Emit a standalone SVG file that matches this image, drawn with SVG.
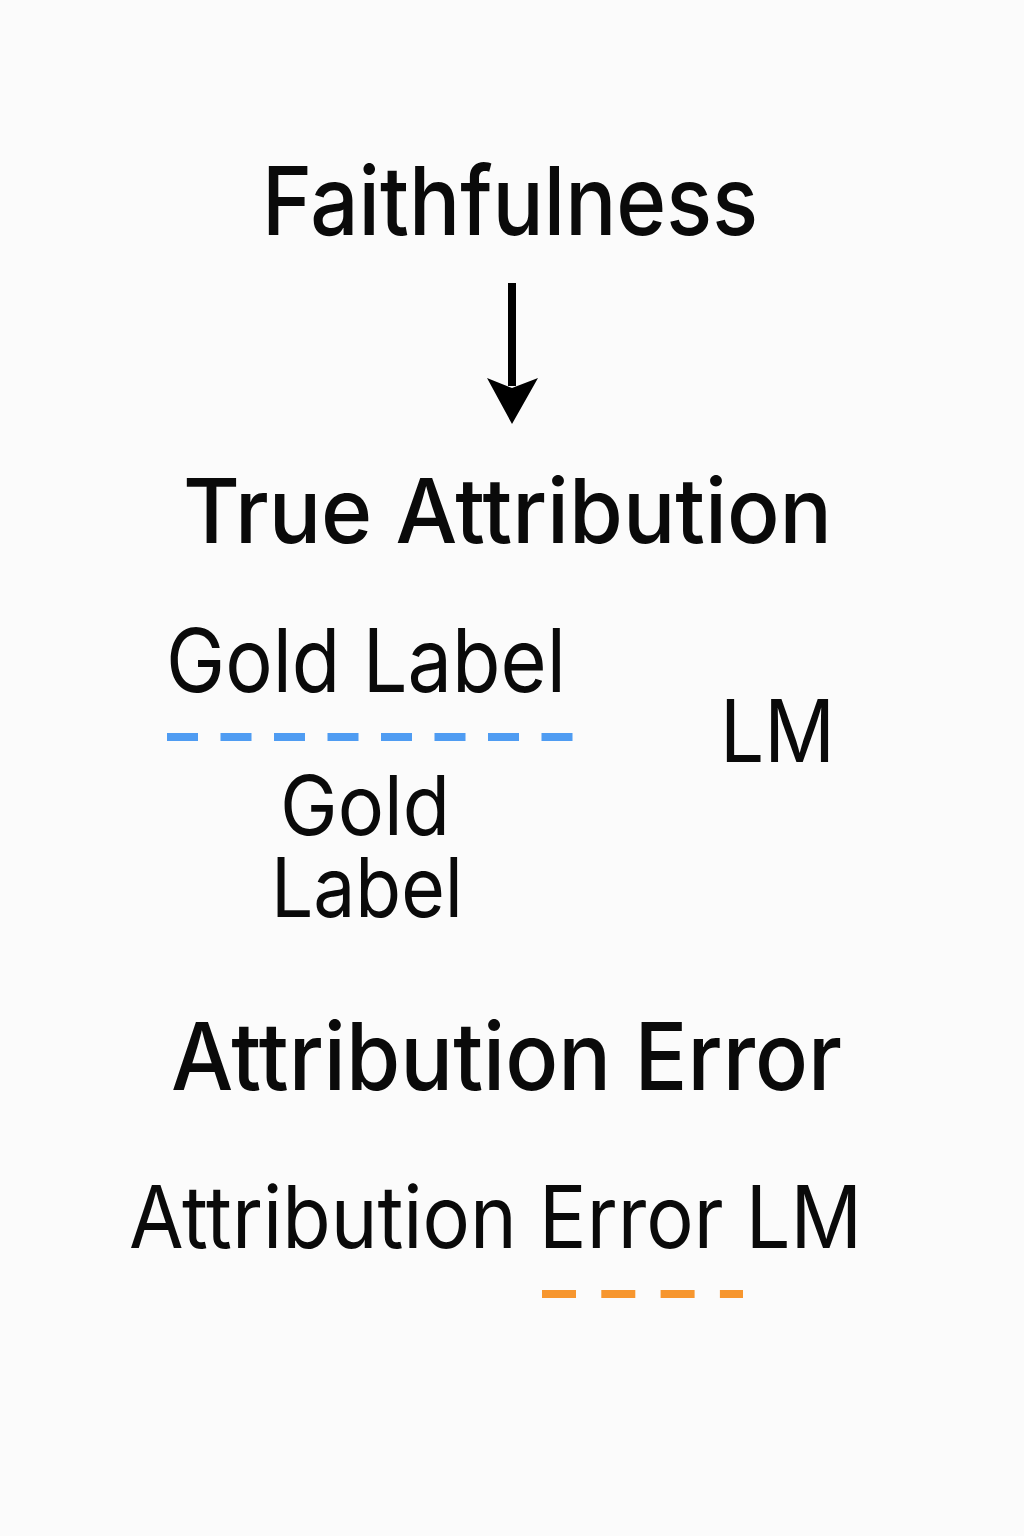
<svg xmlns="http://www.w3.org/2000/svg" width="1024" height="1536" viewBox="0 0 1024 1536">
<style>
.t{font-family:Inter,"Liberation Sans",Arial,sans-serif;fill:#0a0a0a}
.m{font-weight:550}
.r{font-weight:420}
</style>
<rect width="1024" height="1536" fill="#fbfbfb"/>
<g id="node-faithfulness"><text class="t m" x="262" y="235" font-size="95" textLength="496" lengthAdjust="spacingAndGlyphs">Faithfulness</text></g>
<g id="node-true-attribution"><text class="t m" x="183" y="543" font-size="90" textLength="649" lengthAdjust="spacingAndGlyphs">True Attribution</text></g>
<g id="node-gold-label-top"><text class="t r" x="166" y="692" font-size="88" textLength="400" lengthAdjust="spacingAndGlyphs">Gold Label</text></g>
<g id="node-lm"><text class="t r" x="720" y="762" font-size="86" textLength="115" lengthAdjust="spacingAndGlyphs">LM</text></g>
<g id="node-gold-label-stack"><text class="t r" x="280" y="835" font-size="83" textLength="170" lengthAdjust="spacingAndGlyphs">Gold</text><text class="t r" x="271" y="917" font-size="83" textLength="192" lengthAdjust="spacingAndGlyphs">Label</text></g>
<g id="node-attribution-error"><text class="t m" x="171" y="1090" font-size="94" textLength="671" lengthAdjust="spacingAndGlyphs">Attribution Error</text></g>
<g id="node-attribution-error-lm"><text class="t r" x="129" y="1248" font-size="86" textLength="733" lengthAdjust="spacingAndGlyphs">Attribution Error LM</text></g>
<g id="connectors">
<line x1="512" y1="283" x2="512" y2="386" stroke="#000" stroke-width="8"/>
<polygon points="487,378 512,388 538,378 512,424" fill="#000"/>
<line x1="167" y1="737" x2="573" y2="737" stroke="#4f9cf2" stroke-width="8" stroke-dasharray="31 22.5"/>
<line x1="542" y1="1294" x2="743" y2="1294" stroke="#f7962e" stroke-width="8" stroke-dasharray="34 25.3"/>
</g>
</svg>
